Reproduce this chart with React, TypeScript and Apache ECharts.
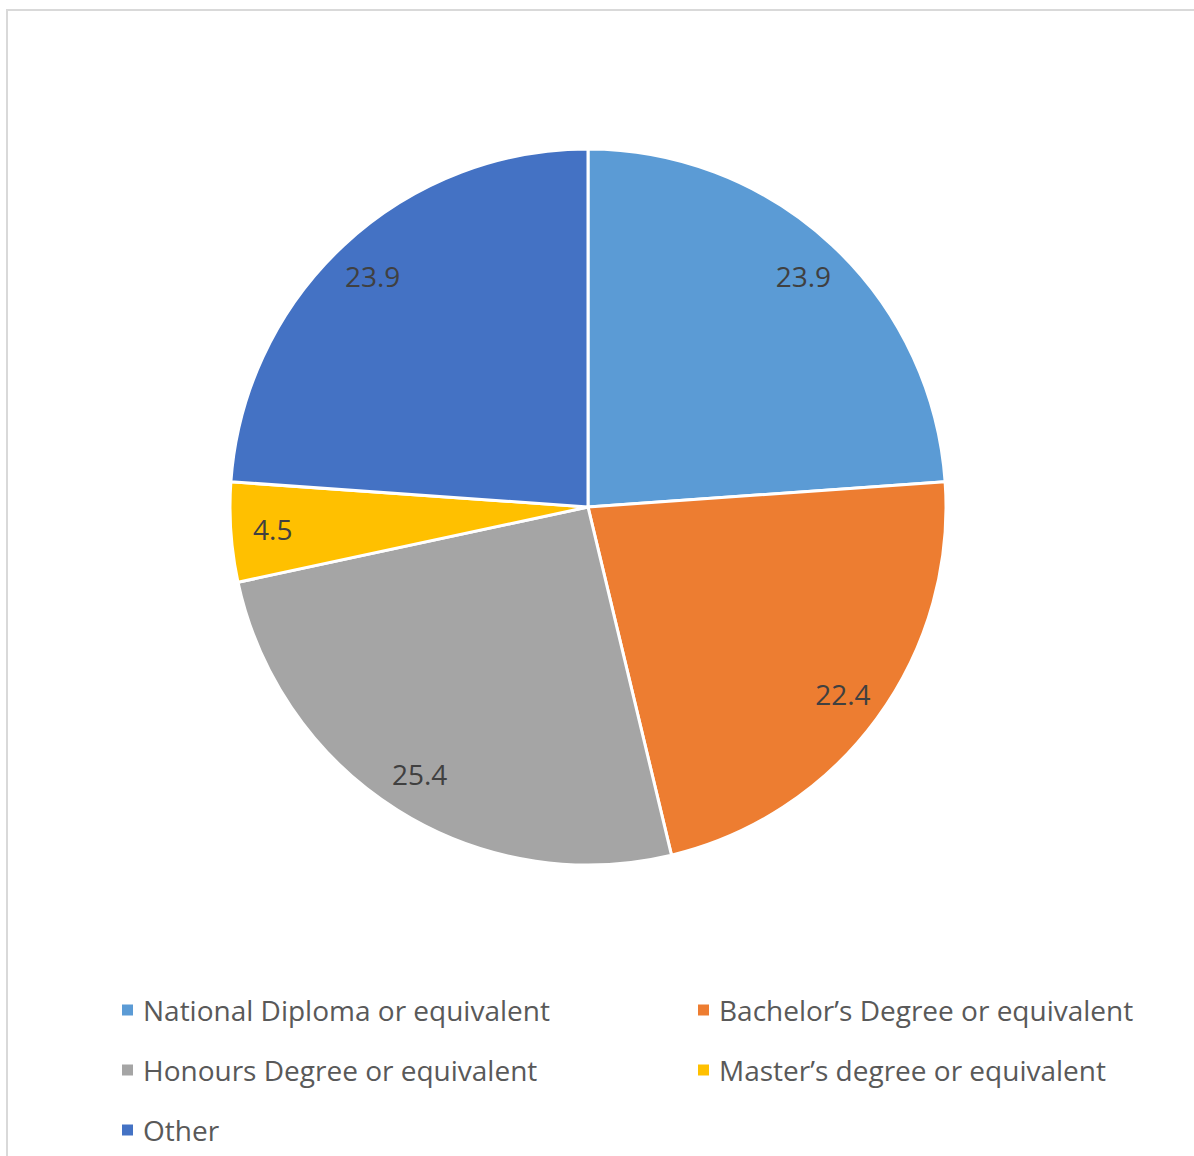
import React, { useEffect, useRef } from "react";
import * as echarts from "echarts";

const categories = [
  "National Diploma or equivalent",
  "Bachelor’s Degree or equivalent",
  "Honours Degree or equivalent",
  "Master’s degree or equivalent",
  "Other",
];
const values = [23.9, 22.4, 25.4, 4.5, 23.9];
const colors = ["#5B9BD5", "#ED7D31", "#A5A5A5", "#FFC000", "#4472C4"];

const leftLegend = [categories[0], categories[2], categories[4]];
const rightLegend = [categories[1], categories[3]];

const FONT = "Open Sans";

export default function App() {
  const ref = useRef<HTMLDivElement>(null);
  useEffect(() => {
    if (!ref.current) return;
    const chart = echarts.init(ref.current, undefined, { renderer: "svg" });
    const data = categories.map((name, i) => ({
      name,
      value: values[i],
      itemStyle: { color: colors[i] },
    }));
    const legendCommon = {
      orient: "vertical" as const,
      top: 995,
      padding: 0,
      icon: "rect",
      itemWidth: 13,
      itemHeight: 13,
      itemGap: 30,
      selectedMode: false,
      textStyle: {
        fontFamily: FONT,
        fontSize: 28,
        color: "#595959",
        lineHeight: 30,
        padding: [0, 0, 0, 4],
      },
    };
    chart.setOption({
      animation: false,
      backgroundColor: "#ffffff",
      graphic: [
        {
          type: "rect",
          shape: { x: 7, y: 10, width: 1400, height: 1400 },
          style: { fill: "none", stroke: "#D9D9D9", lineWidth: 2 },
          silent: true,
        },
      ],
      legend: [
        { ...legendCommon, left: 120, data: leftLegend },
        { ...legendCommon, left: 696, data: rightLegend },
      ],
      series: [
        {
          type: "pie",
          center: [588, 507],
          radius: [0, 358],
          startAngle: 90,
          clockwise: true,
          data,
          label: { show: false },
          labelLine: { show: false },
          itemStyle: { borderColor: "#ffffff", borderWidth: 3 },
          emphasis: { disabled: true },
          silent: true,
        },
        {
          type: "pie",
          center: [588, 507],
          radius: [0, 626],
          startAngle: 90,
          clockwise: true,
          data: categories.map((name, i) => ({
            name,
            value: values[i],
            itemStyle: { color: "rgba(0,0,0,0)" },
          })),
          itemStyle: { borderWidth: 0 },
          label: {
            show: true,
            position: "inside",
            formatter: (p: any) => p.value.toFixed(1),
            fontFamily: FONT,
            fontSize: 28,
            color: "#404040",
          },
          labelLine: { show: false },
          emphasis: { disabled: true },
          silent: true,
          z: 3,
        },
      ],
    });
    return () => chart.dispose();
  }, []);
  return (
    <div
      ref={ref}
      style={{ position: "fixed", left: 0, top: 0, width: 1194, height: 1156 }}
    />
  );
}
